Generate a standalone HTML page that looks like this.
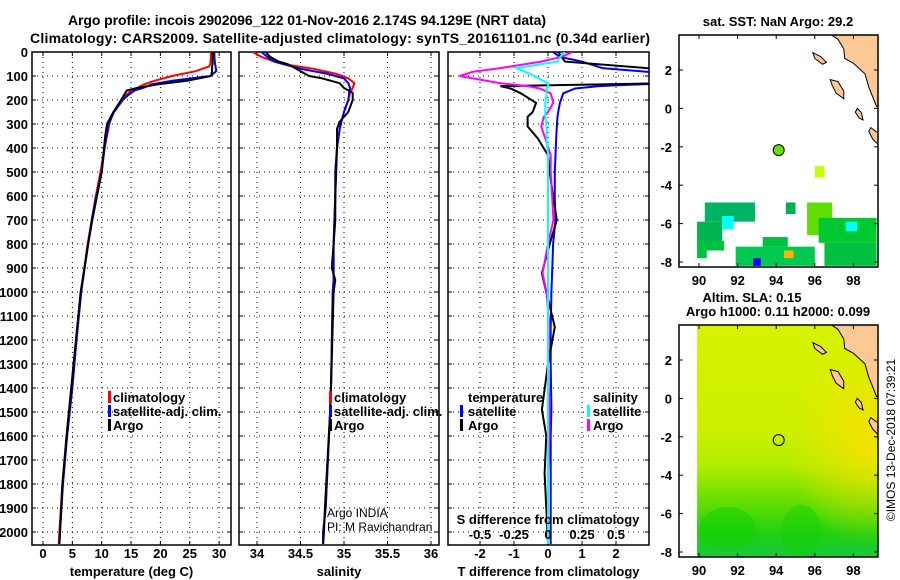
<!DOCTYPE html>
<html><head><meta charset="utf-8">
<style>
html,body{margin:0;padding:0;background:#fff;}
svg{display:block;font-family:"Liberation Sans",Arial,sans-serif;}
.b{font-weight:bold;font-size:13px;}
.t{font-weight:bold;font-size:14px;}
.n{font-size:12px;}
</style></head>
<body>
<svg id="c" width="900" height="580" viewBox="0 0 900 580" xmlns="http://www.w3.org/2000/svg">
<defs>
<clipPath id="cp1"><rect x="32" y="52" width="199" height="493"/></clipPath>
<clipPath id="cp2"><rect x="239" y="52" width="200" height="493"/></clipPath>
<clipPath id="cp3"><rect x="448" y="52" width="201" height="493"/></clipPath>
<clipPath id="cm1"><rect x="679" y="35" width="199" height="232"/></clipPath>
<clipPath id="cm2"><rect x="679" y="325" width="199" height="232"/></clipPath>
<linearGradient id="slaV" x1="0" y1="0" x2="0" y2="1">
<stop offset="0" stop-color="#d6f200"/><stop offset="0.45" stop-color="#ccf000"/>
<stop offset="0.6" stop-color="#b4ee00"/><stop offset="0.75" stop-color="#6ae000"/>
<stop offset="0.9" stop-color="#20d010"/><stop offset="1" stop-color="#18c840"/>
</linearGradient>
<radialGradient id="slaY" cx="0.95" cy="0.5" r="0.45"><stop offset="0" stop-color="#f8e000" stop-opacity="0.9"/><stop offset="1" stop-color="#f8e000" stop-opacity="0"/></radialGradient>
</defs>
<text class="t" x="307" y="25" text-anchor="middle" textLength="478">Argo profile: incois 2902096_122 01-Nov-2016 2.174S 94.129E (NRT data)</text>
<text class="t" x="340" y="43" text-anchor="middle" textLength="620">Climatology: CARS2009. Satellite-adjusted climatology: synTS_20161101.nc (0.34d earlier)</text>
<g id="g"></g>
</svg>
<script>
// ---- data ----
const depthTicks=[0,100,200,300,400,500,600,700,800,900,1000,1100,1200,1300,1400,1500,1600,1700,1800,1900,2000];
const tTicks=[0,5,10,15,20,25,30];
const sTicks=[34,34.5,35,35.5,36];
const dTTicks=[-2,-1,0,1,2];
const dSTicks=[-0.5,-0.25,0,0.25,0.5];
const dSTickLabels=["-0.5","-0.25","0","0.25","0.5"];
const lonTicks=[90,92,94,96,98];
const latTicks=[2,0,-2,-4,-6,-8];

const tempDepth=[0,20,50,60,80,100,120,135,150,160,180,200,250,300,350,400,500,600,700,800,1000,1200,1400,1600,1800,2000,2050];
const tempArgo=[28.9,28.9,28.9,28.8,28.8,28.6,24.5,19.5,16.0,14.3,13.8,13.3,12.0,10.9,10.6,10.4,10.0,9.2,8.4,7.7,6.4,5.6,4.8,4.0,3.3,2.9,2.8];
const tempClim=[28.6,28.6,28.5,28.3,26.0,22.0,19.0,17.2,16.0,15.0,14.2,13.5,12.0,11.3,10.9,10.5,9.8,9.0,8.3,7.6,6.5,5.7,5.0,4.1,3.3,2.8,2.7];
const tempSat=[29.2,29.2,29.3,29.4,29.5,28.5,22.0,18.5,17.0,15.6,14.5,13.6,12.1,11.2,10.8,10.5,10.0,9.1,8.3,7.7,6.5,5.7,5.0,4.1,3.4,2.9,2.8];

const salDepth=[0,20,40,50,70,90,100,110,130,150,170,200,250,290,320,400,500,600,700,800,900,950,1000,1400,1500,1900,2000,2050];
const salArgo=[34.10,34.15,34.25,34.35,34.45,34.55,34.60,34.75,34.95,35.00,35.10,35.10,35.05,34.95,34.92,34.92,34.91,34.90,34.90,34.88,34.86,34.90,34.88,34.85,34.84,34.78,34.77,34.76];
const salClim=[33.95,34.05,34.20,34.30,34.65,34.90,34.98,35.05,35.12,35.10,35.07,35.05,35.00,34.97,34.95,34.92,34.90,34.90,34.89,34.88,34.88,34.88,34.87,34.85,34.84,34.79,34.76,34.76];
const salSat=[34.05,34.12,34.20,34.30,34.50,34.80,34.90,35.00,35.05,35.07,35.06,35.05,35.00,34.97,34.95,34.92,34.90,34.90,34.89,34.88,34.88,34.88,34.87,34.85,34.84,34.79,34.76,34.76];

const diffDepth=[0,20,40,67,82,100,130,142,152,172,212,250,270,310,360,430,500,600,700,800,922,1000,1146,1300,1490,1600,1756,1900,2050];
const dTArgo=[0.3,0.4,0.5,2.9,3.5,3.5,3.5,-1.4,-1.1,-0.8,-0.35,-0.45,-0.6,-0.6,-0.3,0,0.05,0.15,0.26,0.05,-0.18,-0.05,0.2,0.0,-0.18,-0.05,-0.1,-0.05,0];
const dTSat=[0.15,0.35,1.0,1.6,2.9,3.5,3.5,1.5,0.8,0.45,0.35,0.3,0.28,0.26,0.24,0.22,0.2,0.2,0.22,0.15,0.12,0.1,0.08,0.08,0.1,0.08,0.08,0.08,0.08];
const dSArgo=[0.18,0.10,-0.05,-0.35,-0.55,-0.65,-0.35,-0.15,-0.06,0.02,0.04,0.0,-0.03,-0.05,-0.02,0.02,0.02,0.03,0.04,0.0,-0.04,-0.01,0.01,0.0,0.01,0.01,0.0,0.0,0.0];
const dSSat=[0.12,0.09,0.07,-0.23,-0.17,-0.1,0.0,0.0,-0.01,-0.01,-0.02,-0.02,-0.02,-0.01,-0.01,0.0,0.0,0.0,0.0,0.0,0.0,0.0,0.0,0.0,0.0,0.0,0.0,0.0,0.0];

// SST cells: [lon0,lat0,lon1,lat1]
const sstCells=[[90.3,-5.9,92.9,-4.9],[89.9,-7.2,91.2,-5.9],[91.2,-6.3,91.8,-5.6],[89.9,-7.4,91.3,-6.9],[89.9,-7.8,90.4,-7.4],[91.9,-8.2,96.0,-7.2],[93.3,-7.2,94.6,-6.7],[94.5,-5.5,95.0,-4.9],[96.0,-3.6,96.5,-3.0],[95.6,-6.6,96.9,-4.9],[96.2,-7.0,99.2,-5.7],[96.5,-8.2,99.2,-7.0],[97.6,-6.4,98.2,-5.9],[92.8,-8.2,93.2,-7.8],[94.4,-7.8,94.9,-7.4]];
const sstColors=["#00b464","#00b450","#00ffff","#00c040","#00c040","#00c850","#00c040","#00b050","#c8ff00","#60e000","#00c830","#00c040","#00ffff","#0000ff","#ffb000"];
const argoLon=94.129, argoLat=-2.174;

// ---- helpers ----
const g=document.getElementById('g');
const NS='http://www.w3.org/2000/svg';
function mk(tag,attrs,parent){const e=document.createElementNS(NS,tag);for(const k in attrs)e.setAttribute(k,attrs[k]);(parent||g).appendChild(e);return e;}
const yD=d=>52+0.24*d;
const xT=t=>43+5.87*t;
const xS=s=>257+87*(s-34);
const xDT=v=>548+34*v;
const xDS=v=>548+136*v;
const mX=lon=>699+19.3*(lon-90);
const mY1=lat=>262-19.2*(lat+8);
const mY2=lat=>552-19.2*(lat+8);

function panel(x0,x1,ticks,xf,labels,name,showDepth,xlabel,labelY){
  const p=mk('g',{});
  
  
  depthTicks.forEach(d=>{const l=mk('line',{x1:x0,x2:x1,y1:yD(d),y2:yD(d),stroke:'#000','stroke-dasharray':'1,4','stroke-width':1},p);
    mk('line',{x1:x0,x2:x0+4,y1:yD(d),y2:yD(d),stroke:'#000'},p);mk('line',{x1:x1-4,x2:x1,y1:yD(d),y2:yD(d),stroke:'#000'},p);
    if(showDepth){const t=mk('text',{x:28,y:yD(d)+5,'text-anchor':'end',class:'b'},p);t.textContent=d;}
  });
  ticks.forEach((v,i)=>{const X=xf(v);const l=mk('line',{x1:X,x2:X,y1:52,y2:545,stroke:'#000','stroke-dasharray':'1,4'},p);
    mk('line',{x1:X,x2:X,y1:545,y2:541,stroke:'#000'},p);mk('line',{x1:X,x2:X,y1:52,y2:56,stroke:'#000'},p);
    const t=mk('text',{x:X,y:558,'text-anchor':'middle',class:'b'},p);t.textContent=labels[i];});
  const r=mk('rect',{x:x0,y:52,width:x1-x0,height:493,fill:'none',stroke:'#000','stroke-width':1.5},p);
  
  const t=mk('text',{x:(x0+x1)/2,y:labelY,'text-anchor':'middle',class:'b'},p);t.textContent=xlabel;
  
}
function line(xs,ds,xf,color,clip,name,w){
  const pts=xs.map((v,i)=>xf(v).toFixed(1)+','+yD(ds[i]).toFixed(1)).join(' ');
  const l=mk('polyline',{points:pts,fill:'none',stroke:color,'stroke-width':w||2,'clip-path':'url(#'+clip+')'});
  
  
}
function txt(x,y,s,cls,name,anchor){const t=mk('text',{x:x,y:y,class:cls,'text-anchor':anchor||'start'});t.textContent=s;
  
  return t;}
function bar(x,y,color,name){const r=mk('rect',{x:x,y:y-11,width:3,height:12,fill:color});
  
  }

// panels
panel(32,231,tTicks,xT,tTicks,'temperature-panel',true,'temperature (deg C)',576);
panel(239,439,sTicks,xS,sTicks,'salinity-panel',false,'salinity',576);
panel(448,649,dTTicks,xDT,dTTicks,'difference-panel',false,'T difference from climatology',576);

line(tempClim,tempDepth,xT,'#ff0000','cp1','temp-climatology-line');
line(tempSat,tempDepth,xT,'#0000ff','cp1','temp-satellite-line');
line(tempArgo,tempDepth,xT,'#000000','cp1','temp-argo-line');
line(salClim,salDepth,xS,'#ff0000','cp2','sal-climatology-line');
line(salSat,salDepth,xS,'#0000ff','cp2','sal-satellite-line');
line(salArgo,salDepth,xS,'#000000','cp2','sal-argo-line');
line(dTSat,diffDepth,xDT,'#0000ff','cp3','dT-satellite-line');
line(dTArgo,diffDepth,xDT,'#000000','cp3','dT-argo-line');
line(dSArgo,diffDepth,xDS,'#ff00ff','cp3','dS-argo-line');
line(dSSat,diffDepth,xDS,'#00ffff','cp3','dS-satellite-line');

// legends
bar(108,402,'#ff0000','legend-marker-climatology');txt(113,402,'climatology','b','legend-climatology');
bar(108,416,'#0000ff','legend-marker-satellite');txt(113,416,'satellite-adj. clim.','b','legend-satellite-adj');
bar(108,430,'#000','legend-marker-argo');txt(113,430,'Argo','b','legend-argo');
bar(329,402,'#ff0000','legend-marker-climatology-2');txt(334,402,'climatology','b','legend-climatology-2');
bar(329,416,'#0000ff','legend-marker-satellite-2');txt(334,416,'satellite-adj. clim.','b','legend-satellite-adj-2');
bar(329,430,'#000','legend-marker-argo-2');txt(334,430,'Argo','b','legend-argo-2');
txt(327,517,'Argo INDIA','n','credit-argo-india');
txt(327,531,'PI: M Ravichandran','n','credit-pi');
txt(468,402,'temperature','b','legend-temperature-header');
bar(460,416,'#0000ff','legend-marker-t-sat');txt(468,416,'satellite','b','legend-t-satellite');
bar(460,430,'#000','legend-marker-t-argo');txt(468,430,'Argo','b','legend-t-argo');
txt(593,402,'salinity','b','legend-salinity-header');
bar(587,416,'#00ffff','legend-marker-s-sat');txt(593,416,'satellite','b','legend-s-satellite');
bar(587,430,'#ff00ff','legend-marker-s-argo');txt(593,430,'Argo','b','legend-s-argo');
txt(548,524,'S difference from climatology','b','s-axis-title','middle');
dSTicks.forEach((v,i)=>{txt(xDS(v),539,dSTickLabels[i],'b','s-tick-label','middle');});

// maps
function land(yf,parent){
  const coast=[[96.75,3.9],[97.2,3.6],[97.5,3.1],[97.55,2.6],[98.0,2.35],[98.6,1.8],[98.8,1.1],[99.2,0.1],[99.4,0.1],[99.4,3.9]];
  const p=mk('polygon',{points:coast.map(c=>mX(c[0])+','+yf(c[1])).join(' '),fill:'#fcc995',stroke:'#000','stroke-width':1},parent);
  
  const isl=[[[95.9,2.9],[96.3,2.7],[96.6,2.4],[96.4,2.3],[96.0,2.6]],[[96.8,1.5],[97.2,1.4],[97.5,0.9],[97.5,0.5],[97.1,0.8],[96.9,1.2]],[[98.9,-1.0],[99.3,-1.3],[99.3,-1.9],[99.0,-1.6],[98.8,-1.2]],[[98.2,0.0],[98.4,-0.2],[98.5,-0.6],[98.3,-0.5],[98.1,-0.2]]];
  isl.forEach(s=>{const q=mk('polygon',{points:s.map(c=>mX(c[0])+','+yf(c[1])).join(' '),fill:'#fcc995',stroke:'#000','stroke-width':1},parent);
    });
}
function mapAxes(yf,top,bottom,name,labelY){
  const r=mk('rect',{x:679,y:top,width:199,height:bottom-top,fill:'none',stroke:'#000','stroke-width':1.5});
  
  lonTicks.forEach(v=>{mk('line',{x1:mX(v),x2:mX(v),y1:bottom,y2:bottom-4,stroke:'#000'});mk('line',{x1:mX(v),x2:mX(v),y1:top,y2:top+4,stroke:'#000'});
    txt(mX(v),labelY,String(v),'b','lon-tick-label','middle');});
  latTicks.forEach(v=>{mk('line',{x1:679,x2:683,y1:yf(v),y2:yf(v),stroke:'#000'});mk('line',{x1:874,x2:878,y1:yf(v),y2:yf(v),stroke:'#000'});
    txt(672,yf(v)+5,String(v),'b','lat-tick-label','end');});
}
// map 1 SST
const m1=mk('g',{'clip-path':'url(#cm1)'});


sstCells.forEach((c,i)=>{const r=mk('rect',{x:mX(c[0]),y:mY1(c[3]),width:mX(c[2])-mX(c[0]),height:mY1(c[1])-mY1(c[3]),fill:sstColors[i]},m1);
  });
land(mY1,m1);
const a1=mk('circle',{cx:mX(argoLon),cy:mY1(argoLat),r:5.5,fill:'#66e000',stroke:'#000','stroke-width':1});

mapAxes(mY1,35,267,'sst-map',285);
txt(778,26,'sat. SST: NaN Argo: 29.2','b','sst-map-title','middle');
// map 2 SLA
const m2=mk('g',{'clip-path':'url(#cm2)'});


const f=mk('rect',{x:mX(89.9),y:325,width:878-mX(89.9),height:232,fill:'url(#slaV)'},m2);

mk('rect',{x:mX(89.9),y:325,width:878-mX(89.9),height:232,fill:'url(#slaY)'},m2);
mk('ellipse',{cx:mX(91.5),cy:mY2(-6.8),rx:28,ry:22,fill:'#10d000',opacity:0.5},m2);
mk('ellipse',{cx:mX(95.3),cy:mY2(-7.0),rx:20,ry:28,fill:'#10d000',opacity:0.4},m2);
land(mY2,m2);
const a2=mk('circle',{cx:mX(argoLon),cy:mY2(argoLat),r:5.5,fill:'none',stroke:'#000','stroke-width':1});

mapAxes(mY2,325,557,'sla-map',575);
txt(752,302,'Altim. SLA: 0.15','b','sla-map-title','middle');
txt(778,316,'Argo h1000: 0.11 h2000: 0.099','b','sla-map-subtitle','middle');
const rt=txt(895,440,'©IMOS 13-Dec-2018 07:39:21','n','imos-timestamp','middle');
rt.setAttribute('transform','rotate(-90 895 440)');
</script>
</body></html>
